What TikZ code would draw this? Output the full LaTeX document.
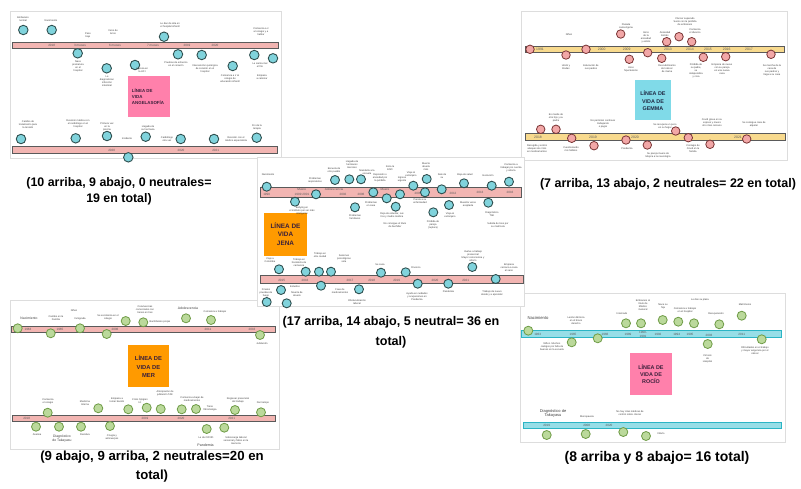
\documentclass[tikz,border=0pt]{standalone}
\usepackage{fontspec}
\setmainfont{Liberation Sans}
\definecolor{barpink}{HTML}{F2B5B2}
\definecolor{bargold}{HTML}{F8DA8E}
\definecolor{barcyan}{HTML}{97DEE7}
\definecolor{barcyanl}{HTML}{2BB5C5}
\definecolor{bardark}{HTML}{5A5A5A}
\definecolor{cteal}{HTML}{80D3DC}
\definecolor{ctealo}{HTML}{2F4F4F}
\definecolor{cpink}{HTML}{F2A7A7}
\definecolor{cpinko}{HTML}{7A3535}
\definecolor{cgreen}{HTML}{BBD99B}
\definecolor{cgreeno}{HTML}{6E9B45}
\definecolor{boxpink}{HTML}{FF80AB}
\definecolor{boxcyan}{HTML}{80DAE8}
\definecolor{boxorange}{HTML}{FF9A00}
\definecolor{framegray}{HTML}{DDDDDD}
\definecolor{ttlpurple}{HTML}{3A1F3A}
\definecolor{ttlnavy}{HTML}{1F2A44}
\begin{document}
\begin{tikzpicture}[x=1pt,y=-1pt,
  panelframe/.style={draw=framegray,line width=0.6pt,fill=white},
  barA/.style={fill=barpink,draw=bardark,line width=0.8pt},
  barG/.style={fill=bargold,draw=bardark,line width=0.8pt},
  barR/.style={fill=barcyan,draw=barcyanl,line width=0.8pt},
  dotA/.style={circle,fill=cteal,draw=ctealo,line width=0.9pt,minimum size=9.5pt,inner sep=0pt},
  dotG/.style={circle,fill=cpink,draw=cpinko,line width=0.8pt,minimum size=8.5pt,inner sep=0pt},
  dotM/.style={circle,fill=cgreen,draw=cgreeno,line width=0.8pt,minimum size=9pt,inner sep=0pt},
  lbl/.style={font=\fontsize{2.5}{3}\selectfont,align=center,text=black!75,inner sep=0pt},
  yr/.style={font=\fontsize{3.1}{3.6}\selectfont,text=black!65,inner sep=0pt,align=center},
  ttl/.style={font=\bfseries\fontsize{5}{7}\selectfont,align=center,inner sep=0pt},
  captxt/.style={font=\bfseries\fontsize{12.4}{16}\selectfont,align=center,inner sep=0pt}]
\useasboundingbox (0,0) rectangle (801,488);
\fill[white] (0,0) rectangle (801,488);

% ================= Panel 1: Angela =================
\draw[panelframe] (10,11) rectangle (281,158);
\draw[barA] (12,42.7) rectangle (278,48.3);
\draw[barA] (12,146.7) rectangle (277,153.5);
\fill[boxpink] (128,76) rectangle (170,117);
\node[ttl,text=ttlpurple,font=\bfseries\fontsize{4.4}{6}\selectfont,align=left] (tA) at (148,97) {LÍNEA DE\\VIDA\\ANGELASOFÍA};
\foreach \x/\y/\t [count=\i] in {51.7/45.5/2018,80/45.5/3 meses,115/45.5/6 meses,153/45.5/7 meses,187/45.5/2019,215/45.5/2020,111.7/150.3/2020,181/150.3/2020,215.7/150.3/2021}
  \node[yr] (yA\i) at (\x,\y) {\t};
\foreach \x/\y [count=\i] in {23.3/30,51.7/30,164/36.7,77.7/53.3,106.7/68.3,135/65,178/54.3,201.7/55,232.7/66,254.3/55,273/58.3,21/139,75.7/138.3,107/136,145.7/136.7,180.7/139,214/139,256.7/137.7,128.3/157.3}
  \node[dotA] (A\i) at (\x,\y) {};
\foreach \x/\y/\t [count=\i] in {
  23/19.5/{Embarazo\\normal},
  51/20.5/{Nacimiento},
  88/35.5/{Peso\\bajo},
  113/32.5/{Inicio de\\la tos},
  170/25.5/{Le dan de alta en\\el hospital infantil},
  261/32/{Comienza a ir\\al colegio y a\\hablar},
  78/66/{Nace\\prematura\\en el\\hospital},
  107/81/{Le\\diagnostican\\infección\\intestinal},
  142/70/{Ingresa en\\la UCI},
  176/64.5/{Pruebas de esfuerzo\\en el corazón},
  205/69/{Intervención quirúrgica\\de corazón en el\\hospital},
  230/79/{Comienza a ir al\\colegio de\\educación infantil},
  260/65.5/{Le sienta mal\\el frío},
  262/77.5/{Empieza\\a caminar},
  28/125/{Cambio de\\tratamiento para\\la tensión},
  78/123.5/{Revisión médica con\\el cardiólogo en el\\hospital},
  107/126.5/{Primera vez\\en la\\piscina},
  127/139/{Incidente},
  148/128.5/{Llegada de\\su hermana},
  167/139.5/{Cardiólogo\\otra vez},
  236/139.5/{Revisión con el\\médico especialista},
  257/127.5/{Fin de la\\terapia}}
  \node[lbl] (lA\i) at (\x,\y) {\t};
\node[captxt] (capA) at (119,191.5) {(10 arriba, 9 abajo, 0 neutrales=\\19 en total)};

% ================= Panel 2: Gemma =================
\draw[panelframe] (521,11) rectangle (787,160);
\draw[barG] (525,46) rectangle (784,52.7);
\draw[barG] (525,133.3) rectangle (785,140);
\fill[boxcyan] (635,80) rectangle (671,120);
\node[ttl,text=ttlnavy,font=\bfseries\fontsize{5.4}{7.4}\selectfont] (tG) at (653,101) {LÍNEA DE\\VIDA DE\\GEMMA};
\foreach \x/\y/\t [count=\i] in {540/49.5/1991,601.7/49.5/2000,626.7/49.5/2009,668/49.5/2013,690/49.5/2014,708/49.5/2015,726.7/49.5/2016,749/49.5/2017,538/137/2018,593/137/2019,635/137/2020,738/137/2021}
  \node[yr,font=\fontsize{3.4}{4}\selectfont] (yG\i) at (\x,\y) {\t};
\foreach \x/\y [count=\i] in {530/49.3,566/55,586/49.3,620.7/34,629.3/59.3,647.7/52.7,661.7/58.3,666.7/41.7,679/36.7,691.7/41.7,703.3/57.3,725.7/56.7,771/54.3,540.7/129.3,556/129.3,571.7/138.3,594/145.7,626/140,647.3/145,675.7/131,688.3/137.7,710/144.3,746.7/139}
  \node[dotG] (G\i) at (\x,\y) {};
\foreach \x/\y/\t [count=\i] in {
  569/35/{Niñez},
  566/67/{Unión y\\Bodas},
  591/67/{Educación de\\sus padres},
  626/26/{Pasada\\cancerígena},
  631/69/{Usos\\hipertensión},
  646/37/{Inicio\\de la\\ansiedad\\y estrés},
  667/69/{Descubrimiento\\del cáncer\\de mama},
  665/34/{Ansiedad\\Estrés},
  685/22/{Cáncer superado\\Susto con la pérdida\\de embarazo},
  695/31/{Comienza\\el divorcio},
  696/71/{Pérdida de\\su padre,\\se\\independiza\\y crea},
  722/69/{Empieza de nuevo\\con su pareja\\en una nueva\\casa},
  772/70/{Se marcha de la\\casa de\\sus padres y\\llega a su casa},
  556/118/{Es madre de\\otro hijo y su\\padre},
  603/124/{No permiten continuar\\trabajando\\o pagar},
  665/126/{Se recupera un poco\\en su hogar},
  712/123/{Covid grave en su\\esposo y muere\\otro más cercano},
  754/124/{Se consigue casa de\\alquiler},
  537/149/{Recogida y estrés\\ataques de crisis\\en medicamentos},
  571/149/{Cuestionando\\mis hábitos},
  627/148.3/{Pandemia},
  658/155/{Su pareja muere de\\Mejora a la neurología},
  693/149/{Contagio de\\Covid en la\\familia}}
  \node[lbl] (lG\i) at (\x,\y) {\t};
\node[captxt,font=\bfseries\fontsize{12.5}{14.5}\selectfont] (capG) at (668,184) {(7 arriba, 13 abajo, 2 neutrales= 22 en total)};

% ================= Panel 4: Mer =================
\draw[panelframe] (10,300) rectangle (279,449);
\draw[barA] (11.7,326) rectangle (275,332.3);
\draw[barA] (12.3,415.7) rectangle (275,421);
\fill[boxorange] (128,345) rectangle (169,387);
\node[ttl,text=ttlpurple,font=\bfseries\fontsize{5.8}{8.4}\selectfont] (tM) at (148.5,366.5) {LÍNEA DE\\VIDA DE\\MER};
\foreach \x/\y/\t [count=\i] in {28/329.2/1963,60/329.2/1965,115/329.2/2006,208/329.2/2011,252/329.2/2016,26.7/418.4/2018,145/418.4/2019,181/418.4/2020,231.7/418.4/2021}
  \node[yr] (yM\i) at (\x,\y) {\t};
\foreach \x/\y [count=\i] in {17.7/328.3,50.7/333.3,80/328.3,106.7/334,125.7/321,143.3/322.3,186/318.3,211/320,260/335,47.7/412.7,98.3/408.3,128.3/409.3,146.7/407.7,160.7/409,181.7/409.3,196/409,235/410,261/412.3,36/426.7,59/426.7,81/426.7,110/426,206.7/429,224.3/427.7}
  \node[dotM] (M\i) at (\x,\y) {};
\foreach \x/\y/\t [count=\i] in {
  56/318.5/{Cambio en la\\Familia},
  74/311/{Niñez},
  80/318.5/{Inmigrada},
  108/317.5/{Se escolariza en el\\colegio},
  145/310/{Convivencias\\comerciales con\\trenes en tres},
  160/322.3/{Bachillerato propio},
  215/311.7/{Comienza a trabajar},
  262/343.3/{Jubilación},
  48/401.5/{Comienza\\el colegio},
  85/403/{Medicina\\Interna},
  117/400/{Empieza a\\tomar bastón},
  140/401.5/{Crisis Sjögren\\Ict},
  165/393.5/{Anticipación de\\jubilación TAK},
  192/399.5/{Comienza a bajar de\\medicamentos},
  210/408.5/{Tiene\\fibromialgia},
  238/400/{Regresar presencial\\del trabajo},
  263/403.3/{Dar tiempo},
  37/435/{Anemia},
  85/435/{Recidiva},
  112/437/{Cirugía y\\anticuerpos},
  206/437.3/{Le da COVID},
  236/441/{Sobrecarga laboral\\sensorial y fallos en la\\memoria}}
  \node[lbl] (lM\i) at (\x,\y) {\t};
\node[lbl,font=\fontsize{3.4}{4}\selectfont] (nM) at (29,318.5) {Nacimiento};
\node[lbl,font=\fontsize{3.4}{4}\selectfont] (aM) at (188,308.3) {Adolescencia};
\node[lbl,font=\fontsize{3.4}{4}\selectfont] (dM) at (62,438.5) {Diagnóstico\\de Takayasu};
\node[lbl,font=\fontsize{3.6}{4}\selectfont] (pM) at (205.5,445.7) {Pandemia};
\node[captxt,font=\bfseries\fontsize{13.2}{19}\selectfont] (capM) at (152,467) {(9 abajo, 9 arriba, 2 neutrales=20 en\\total)};

% ================= Panel 5: Rocio =================
\draw[panelframe] (520,293) rectangle (785,442);
\draw[barR] (521.7,330.7) rectangle (781.7,337.3);
\draw[barR] (523,422) rectangle (781.7,428.3);
\fill[boxpink] (630,353.3) rectangle (672,395);
\node[ttl,text=ttlpurple,font=\bfseries\fontsize{5.4}{7.3}\selectfont] (tR) at (651,374) {LÍNEA DE\\VIDA DE\\ROCÍO};
\foreach \x/\y/\t [count=\i] in {537.7/334/1963,573/334/1965,605/334/1966,628/334/1989,643/334.5/{1990-\\1991},658/334/1992,676.7/334/1994,690/334/1995,709/335/2003,741.7/334/2011,546.7/425.2/2019,586.7/425.2/2008,609/425.2/2020}
  \node[yr] (yR\i) at (\x,\y) {\t};
\foreach \x/\y [count=\i] in {528.3/330.7,571.7/342.3,597.7/338.3,626/323.3,641/323.3,662.7/320,678.3/321.7,694/323.3,719.3/324.3,741.7/315.7,707.7/344,761.7/339.3,546.7/435,585.7/434,623.3/432,646/436}
  \node[dotM] (R\i) at (\x,\y) {};
\foreach \x/\y/\t [count=\i] in {
  576/321/{Lesión dérmica\\en el brazo\\derecho},
  622/313.3/{Internado},
  643/305/{Embarazo al\\título de\\Médico\\General},
  663/306.7/{Nace su\\hija},
  685/310.5/{Comienza a trabajar\\en el hospital},
  700/300/{Le dan su plaza},
  716/314/{Recuperación},
  745/305/{Matrimonio},
  552/346.5/{Niñez. Muchos\\castigos por falta de\\buenos en la escuela},
  707.5/358.5/{Cirrosis\\de\\Hospital},
  755/351/{Dificultades en el trabajo\\y mayor exigencia por el\\cáncer},
  587/416.7/{Menopausia},
  630/413/{No hay citas médicas de\\control sobre cáncer},
  661/434/{Infarto}}
  \node[lbl] (lR\i) at (\x,\y) {\t};
\node[lbl,font=\fontsize{4.2}{5}\selectfont] (nR) at (538,318.3) {Nacimiento};
\node[lbl,font=\fontsize{4}{4.8}\selectfont] (dR) at (553,413.5) {Diagnóstico de\\Takayasu};
\node[captxt,font=\bfseries\fontsize{14}{16}\selectfont] (capR) at (657,458) {(8 arriba y 8 abajo= 16 total)};

% ================= Panel 3: Jena (on top) =================
\draw[panelframe] (257,157) rectangle (524,306);
\draw[barA] (260,187) rectangle (521.7,197);
\draw[barA] (260,275) rectangle (523,283.3);
\fill[boxorange] (264,213) rectangle (307,256);
\node[ttl,text=ttlpurple,font=\bfseries\fontsize{6.4}{8.2}\selectfont] (tJ) at (285.5,234) {LÍNEA DE\\VIDA\\JENA};
\foreach \x/\y/\t [count=\i] in {266.7/194/1990,301.7/189.5/Muere,302/194/1999 2001,334/189.5/Adolescencia,343/194/2002,361/194/2006,385/189.5/Muere,418/193/2009,453/193/2012,480/192.5/2013,510/192.5/2016,281.7/280/2015,305/280/2016,350/280/2017,371.7/280/2018,396.7/280/2019,435/280/2020,465.7/280/2021}
  \node[yr] (yJ\i) at (\x,\y) {\t};
\foreach \x/\y [count=\i] in {266.7/186.7,295/201.7,316/194.3,335/180,349.3/179.3,361/179.3,373.3/192.3,355/207.3,386.7/198.3,400/194.3,395.7/206.7,413.3/185.7,426.7/179,425/192.3,433.3/212.3,441.7/189.3,449/205,464/183.3,488.3/202.7,491.7/185.7,509/181.7,279/269.3,281/290,305.7/271.7,319/271.7,331/271.7,321/285.7,359/289.3,381/272.7,405.7/272.3,417.7/283.7,448.3/283.7,472.3/267,495.7/279,266.7/302,286.7/303.3}
  \node[dotA,minimum size=9pt] (J\i) at (\x,\y) {};
\foreach \x/\y/\t [count=\i] in {
  268/175/{Nacimiento},
  315/180.5/{Problemas\\respiratorios},
  334/170/{Escuela de\\otro pueblo},
  352/165/{Llegada de\\hermanos\\menores},
  367/172/{Mandarla a la\\escuela},
  390/168/{Inicia la\\ESO},
  380/178/{Depresión o\\ansiedad por\\la pérdida},
  302/211/{Bullying en\\el instituto por ser más\\inteligente},
  355/217/{Problemas\\familiares},
  371/204/{Problemas\\en casa},
  392/215/{Deja de estudiar, sus\\tíos y madre médica},
  395/225/{No consigue el título\\de bachiller},
  402/179/{Ingreso\\urgente},
  411/174/{Viaje al\\extranjero},
  426/167/{Muerte\\abuela\\más},
  420/201.5/{Pierde a su\\enfermedad},
  433/225/{Pérdida de\\pareja\\(ruptura)},
  442/176/{Sale de\\su},
  465/175/{Baja de salud},
  468/204/{Muestra verse\\aceptada},
  450/215/{Viaja al\\extranjero},
  488/176/{Evolución},
  511/168/{Comienza a\\trabajar por cuenta\\y ahorra},
  492/214/{Diagnóstico\\TAK},
  498/225/{Subida de tono por\\su matrícula},
  270/260/{Viaje a\\Colombia},
  299/263/{Trabaja en\\hostelería de\\camarera},
  320/255/{Trabajo en\\otra ciudad},
  344/259/{Sesiones\\psicológicas\\sola},
  380/265/{Se casa},
  416/268/{Divorcio},
  473/256/{Vuelve a trabajo\\presencial\\Mayor consciencia y\\ahorro},
  509/268/{Empresa\\cercana a casa\\al sano},
  266/293/{Finales\\pruebas de\\fuego},
  295/287/{Estudios},
  297/294.5/{Muerte de\\abuelo},
  340/291/{Fase de\\medicamentos},
  357/302/{Obstaculización\\laboral},
  417/297/{Ayuda en cuidados\\y ocupaciones en\\Pandemia},
  448.5/292/{Pandemia},
  492/293/{Trabajo de nuevo\\desde y a aprender}}
  \node[lbl] (lJ\i) at (\x,\y) {\t};
\node[captxt,font=\bfseries\fontsize{12.6}{19.5}\selectfont] (capJ) at (391,332) {(17 arriba, 14 abajo, 5 neutral= 36 en\\total)};
\end{tikzpicture}
\end{document}
